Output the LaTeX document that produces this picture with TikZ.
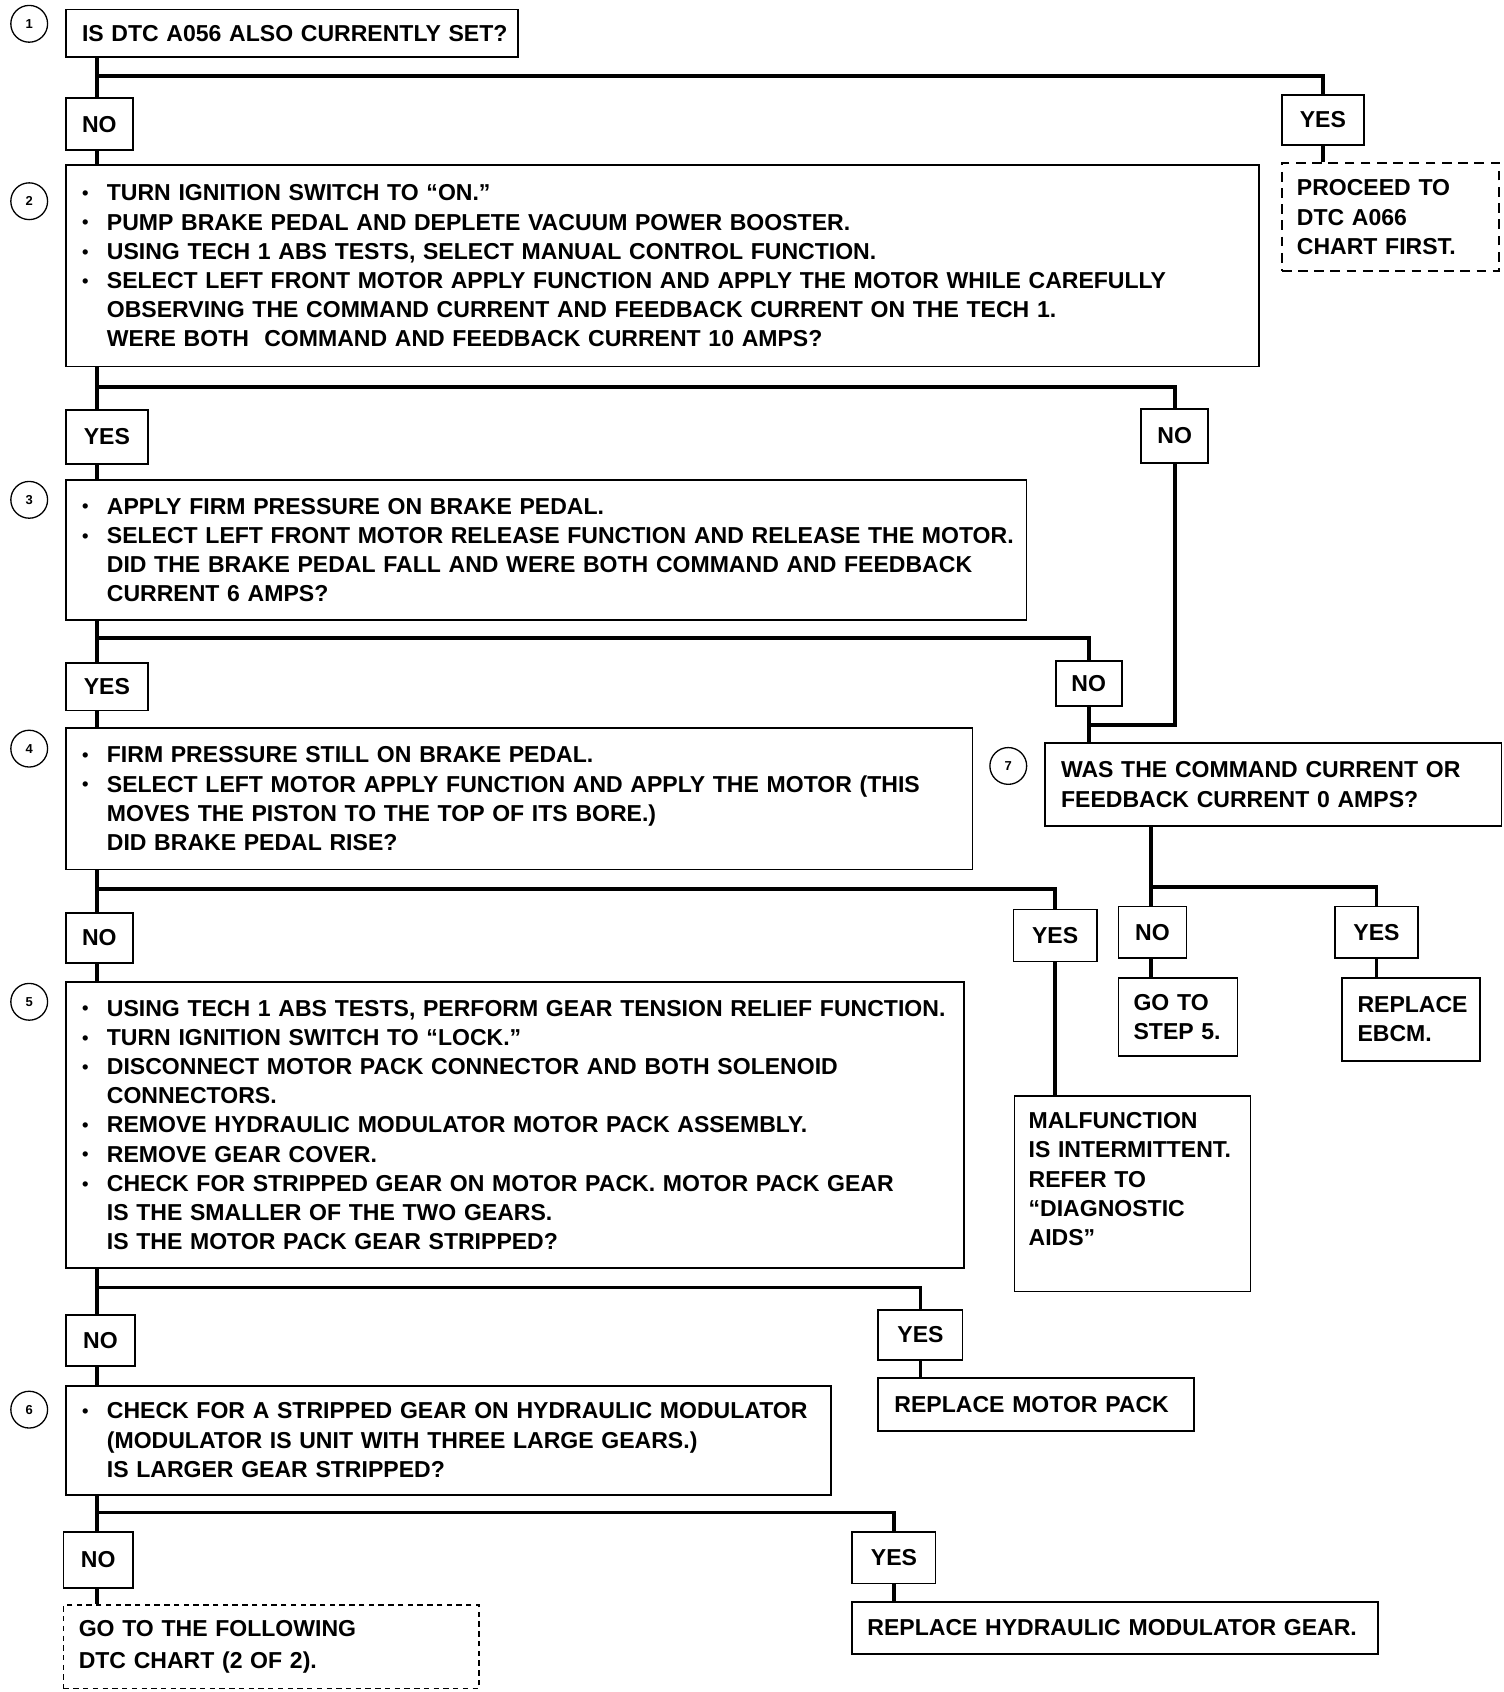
\documentclass[tikz,border=0pt]{standalone}
\usepackage{fontspec}
\setmainfont{Liberation Sans}
\usetikzlibrary{calc}
\newcommand\bl[1]{\mbox{\makebox[23pt][l]{\raisebox{1pt}{\fontsize{17}{17}\selectfont •}}#1}}
\newcommand\il[1]{\mbox{\hspace*{23pt}#1}}
\tikzset{
  box/.style={draw, line width=1.6pt, anchor=north west, inner xsep=15pt, inner ysep=0pt, align=left},
  dbox/.style={box, dash pattern=on 9pt off 6pt},
  ddbox/.style={box, dash pattern=on 5pt off 4pt},
  yn/.style={draw, line width=1.6pt, anchor=north west, inner sep=0pt, align=center},
  conn/.style={line width=3.5pt},
  circ/.style={draw, circle, line width=1.2pt, minimum size=34pt, inner sep=0pt, font=\fontsize{12}{12}\selectfont\bfseries},
}
\begin{document}
\begin{tikzpicture}[x=1pt, y=-1pt, font=\fontsize{21.3}{27}\selectfont\bfseries]
\fill[white] (0,0) rectangle (1390,1564);
\useasboundingbox (0,0) rectangle (1390,1564);

% ---- step 1
\node[circ] (c1) at (27,22) {1};
\node[box, minimum width=418pt, minimum height=44pt, text width=388pt] (b1) at (60,8) {\mbox{IS DTC A056 ALSO CURRENTLY SET?}};
\node[yn, minimum width=62pt, minimum height=48pt] (n1) at (60,90) {NO};
\node[yn, minimum width=76pt, minimum height=46pt] (y1) at (1184,87) {YES};
\node[dbox, minimum width=201pt, minimum height=100pt, text width=173pt, inner xsep=14pt] (p1) at (1184,150) {PROCEED TO\\DTC A066\\CHART FIRST.};

% ---- step 2
\node[circ] (c2) at (27,186) {2};
\node[box, minimum width=1103pt, minimum height=186pt, text width=1073pt] (b2) at (60,152) {%
\bl{TURN IGNITION SWITCH TO “ON.”}\\
\bl{PUMP BRAKE PEDAL AND DEPLETE VACUUM POWER BOOSTER.}\\
\bl{USING TECH 1 ABS TESTS, SELECT MANUAL CONTROL FUNCTION.}\\
\bl{SELECT LEFT FRONT MOTOR APPLY FUNCTION AND APPLY THE MOTOR WHILE CAREFULLY}\\
\il{OBSERVING THE COMMAND CURRENT AND FEEDBACK CURRENT ON THE TECH 1.}\\
\il{WERE BOTH\ \ COMMAND AND FEEDBACK CURRENT 10 AMPS?}};
\node[yn, minimum width=76pt, minimum height=50pt] (y2) at (60,378) {YES};
\node[yn, minimum width=62pt, minimum height=50pt] (n2) at (1054,377) {NO};

% ---- step 3
\node[circ] (c3) at (27,462) {3};
\node[box, minimum width=888pt, minimum height=129pt, text width=858pt] (b3) at (60,443) {%
\bl{APPLY FIRM PRESSURE ON BRAKE PEDAL.}\\
\bl{SELECT LEFT FRONT MOTOR RELEASE FUNCTION AND RELEASE THE MOTOR.}\\
\il{DID THE BRAKE PEDAL FALL AND WERE BOTH COMMAND AND FEEDBACK}\\
\il{CURRENT 6 AMPS?}};
\node[yn, minimum width=76pt, minimum height=44pt] (y3) at (60,612) {YES};
\node[yn, minimum width=61pt, minimum height=42pt] (n3) at (975,610) {NO};

% ---- step 4
\node[circ] (c4) at (27,692) {4};
\node[box, minimum width=838pt, minimum height=131pt, text width=808pt] (b4) at (60,672) {%
\bl{FIRM PRESSURE STILL ON BRAKE PEDAL.}\\
\bl{SELECT LEFT MOTOR APPLY FUNCTION AND APPLY THE MOTOR (THIS}\\
\il{MOVES THE PISTON TO THE TOP OF ITS BORE.)}\\
\il{DID BRAKE PEDAL RISE?}};
\node[yn, minimum width=62pt, minimum height=46pt] (n4) at (60,843) {NO};
\node[yn, minimum width=77pt, minimum height=48pt] (y4) at (936,840) {YES};
\node[box, minimum width=218pt, minimum height=181pt, text width=192pt, inner xsep=13pt] (m) at (937,1012) {MALFUNCTION\\IS INTERMITTENT.\\REFER TO\\“DIAGNOSTIC\\AIDS”\\\mbox{}};

% ---- step 7
\node[circ] (c7) at (932,708) {7};
\node[box, minimum width=422pt, minimum height=77pt, text width=392pt] (b7) at (965,686) {WAS THE COMMAND CURRENT OR\\FEEDBACK CURRENT 0 AMPS?};
\node[yn, minimum width=63pt, minimum height=48pt] (n7) at (1033,837) {NO};
\node[yn, minimum width=77pt, minimum height=48pt] (y7) at (1233,837) {YES};
\node[box, minimum width=110pt, minimum height=72pt, text width=82pt, inner xsep=14pt] (g7) at (1033,903) {GO TO\\STEP 5.};
\node[box, minimum width=127pt, minimum height=77pt, text width=99pt, inner xsep=14pt] (e7) at (1240,903) {REPLACE\\EBCM.};

% ---- step 5
\node[circ] (c5) at (27,926) {5};
\node[box, minimum width=830pt, minimum height=264pt, text width=800pt] (b5) at (60,907) {%
\bl{USING TECH 1 ABS TESTS, PERFORM GEAR TENSION RELIEF FUNCTION.}\\
\bl{TURN IGNITION SWITCH TO “LOCK.”}\\
\bl{DISCONNECT MOTOR PACK CONNECTOR AND BOTH SOLENOID}\\
\il{CONNECTORS.}\\
\bl{REMOVE HYDRAULIC MODULATOR MOTOR PACK ASSEMBLY.}\\
\bl{REMOVE GEAR COVER.}\\
\bl{CHECK FOR STRIPPED GEAR ON MOTOR PACK. MOTOR PACK GEAR}\\
\il{IS THE SMALLER OF THE TWO GEARS.}\\
\il{IS THE MOTOR PACK GEAR STRIPPED?}};
\node[yn, minimum width=64pt, minimum height=47pt] (n5) at (60,1215) {NO};
\node[yn, minimum width=78pt, minimum height=46pt] (y5) at (811,1210) {YES};
\node[box, minimum width=292pt, minimum height=49pt, text width=262pt] (r5) at (811,1273) {\mbox{REPLACE MOTOR PACK}};

% ---- step 6
\node[circ] (c6) at (27,1303) {6};
\node[box, minimum width=707pt, minimum height=101pt, text width=677pt] (b6) at (60,1280) {%
\bl{CHECK FOR A STRIPPED GEAR ON HYDRAULIC MODULATOR}\\
\il{(MODULATOR IS UNIT WITH THREE LARGE GEARS.)}\\
\il{IS LARGER GEAR STRIPPED?}};
\node[yn, minimum width=64pt, minimum height=52pt] (n6) at (58,1415) {NO};
\node[yn, minimum width=77pt, minimum height=48pt] (y6) at (787,1415) {YES};
\node[box, minimum width=486pt, minimum height=48pt, text width=458pt, inner xsep=14pt] (r6) at (787,1480) {\mbox{REPLACE HYDRAULIC MODULATOR GEAR.}};
\node[ddbox, minimum width=384pt, minimum height=77pt, text width=356pt, inner xsep=14pt] (d6) at (58,1483) {GO TO THE FOLLOWING\\[3pt]DTC CHART (2 OF 2).};

% ---- connectors
\coordinate (j1) at (90,70);
\coordinate (j2) at (90,358);
\coordinate (j3) at (90,590);
\coordinate (j4) at (90,822);
\coordinate (j5) at (90,1190);
\coordinate (j6) at (90,1398);
\coordinate (j7) at (1064,820);
\coordinate (h7) at (0,670);

\draw[conn] (b1.south -| j1) -- (n1.north -| j1);
\draw[conn] (j1) -| (y1.north);
\draw[conn] (y1.south) -- (p1.north -| y1.south);
\draw[conn] (n1.south -| j1) -- (b2.north -| j1);

\draw[conn] (b2.south -| j2) -- (y2.north -| j2);
\draw[conn] (j2) -| (n2.north);
\draw[conn] (y2.south -| j2) -- (b3.north -| j2);
\draw[conn] (n2.south) |- (n3.south |- h7);

\draw[conn] (b3.south -| j3) -- (y3.north -| j3);
\draw[conn] (j3) -| (n3.north);
\draw[conn] (y3.south -| j3) -- (b4.north -| j3);
\draw[conn] (n3.south) -- (b7.north -| n3.south);

\draw[conn] (b4.south -| j4) -- (n4.north -| j4);
\draw[conn] (j4) -| (y4.north);
\draw[conn] (y4.south) -- (m.north -| y4.south);
\draw[conn] (n4.south -| j4) -- (b5.north -| j4);

\draw[conn] (b7.south -| j7) -- (n7.north -| j7);
\draw[conn] (j7) -| (y7.north);
\draw[conn] (n7.south -| j7) -- (g7.north -| j7);
\draw[conn] (y7.south) -- (e7.north -| y7.south);

\draw[conn] (b5.south -| j5) -- (n5.north -| j5);
\draw[conn] (j5) -| (y5.north);
\draw[conn] (y5.south) -- (r5.north -| y5.south);
\draw[conn] (n5.south -| j5) -- (b6.north -| j5);

\draw[conn] (b6.south -| j6) -- (n6.north -| j6);
\draw[conn] (j6) -| (y6.north);
\draw[conn] (y6.south) -- (r6.north -| y6.south);
\draw[conn] (n6.south -| j6) -- (d6.north -| j6);
\end{tikzpicture}
\end{document}
